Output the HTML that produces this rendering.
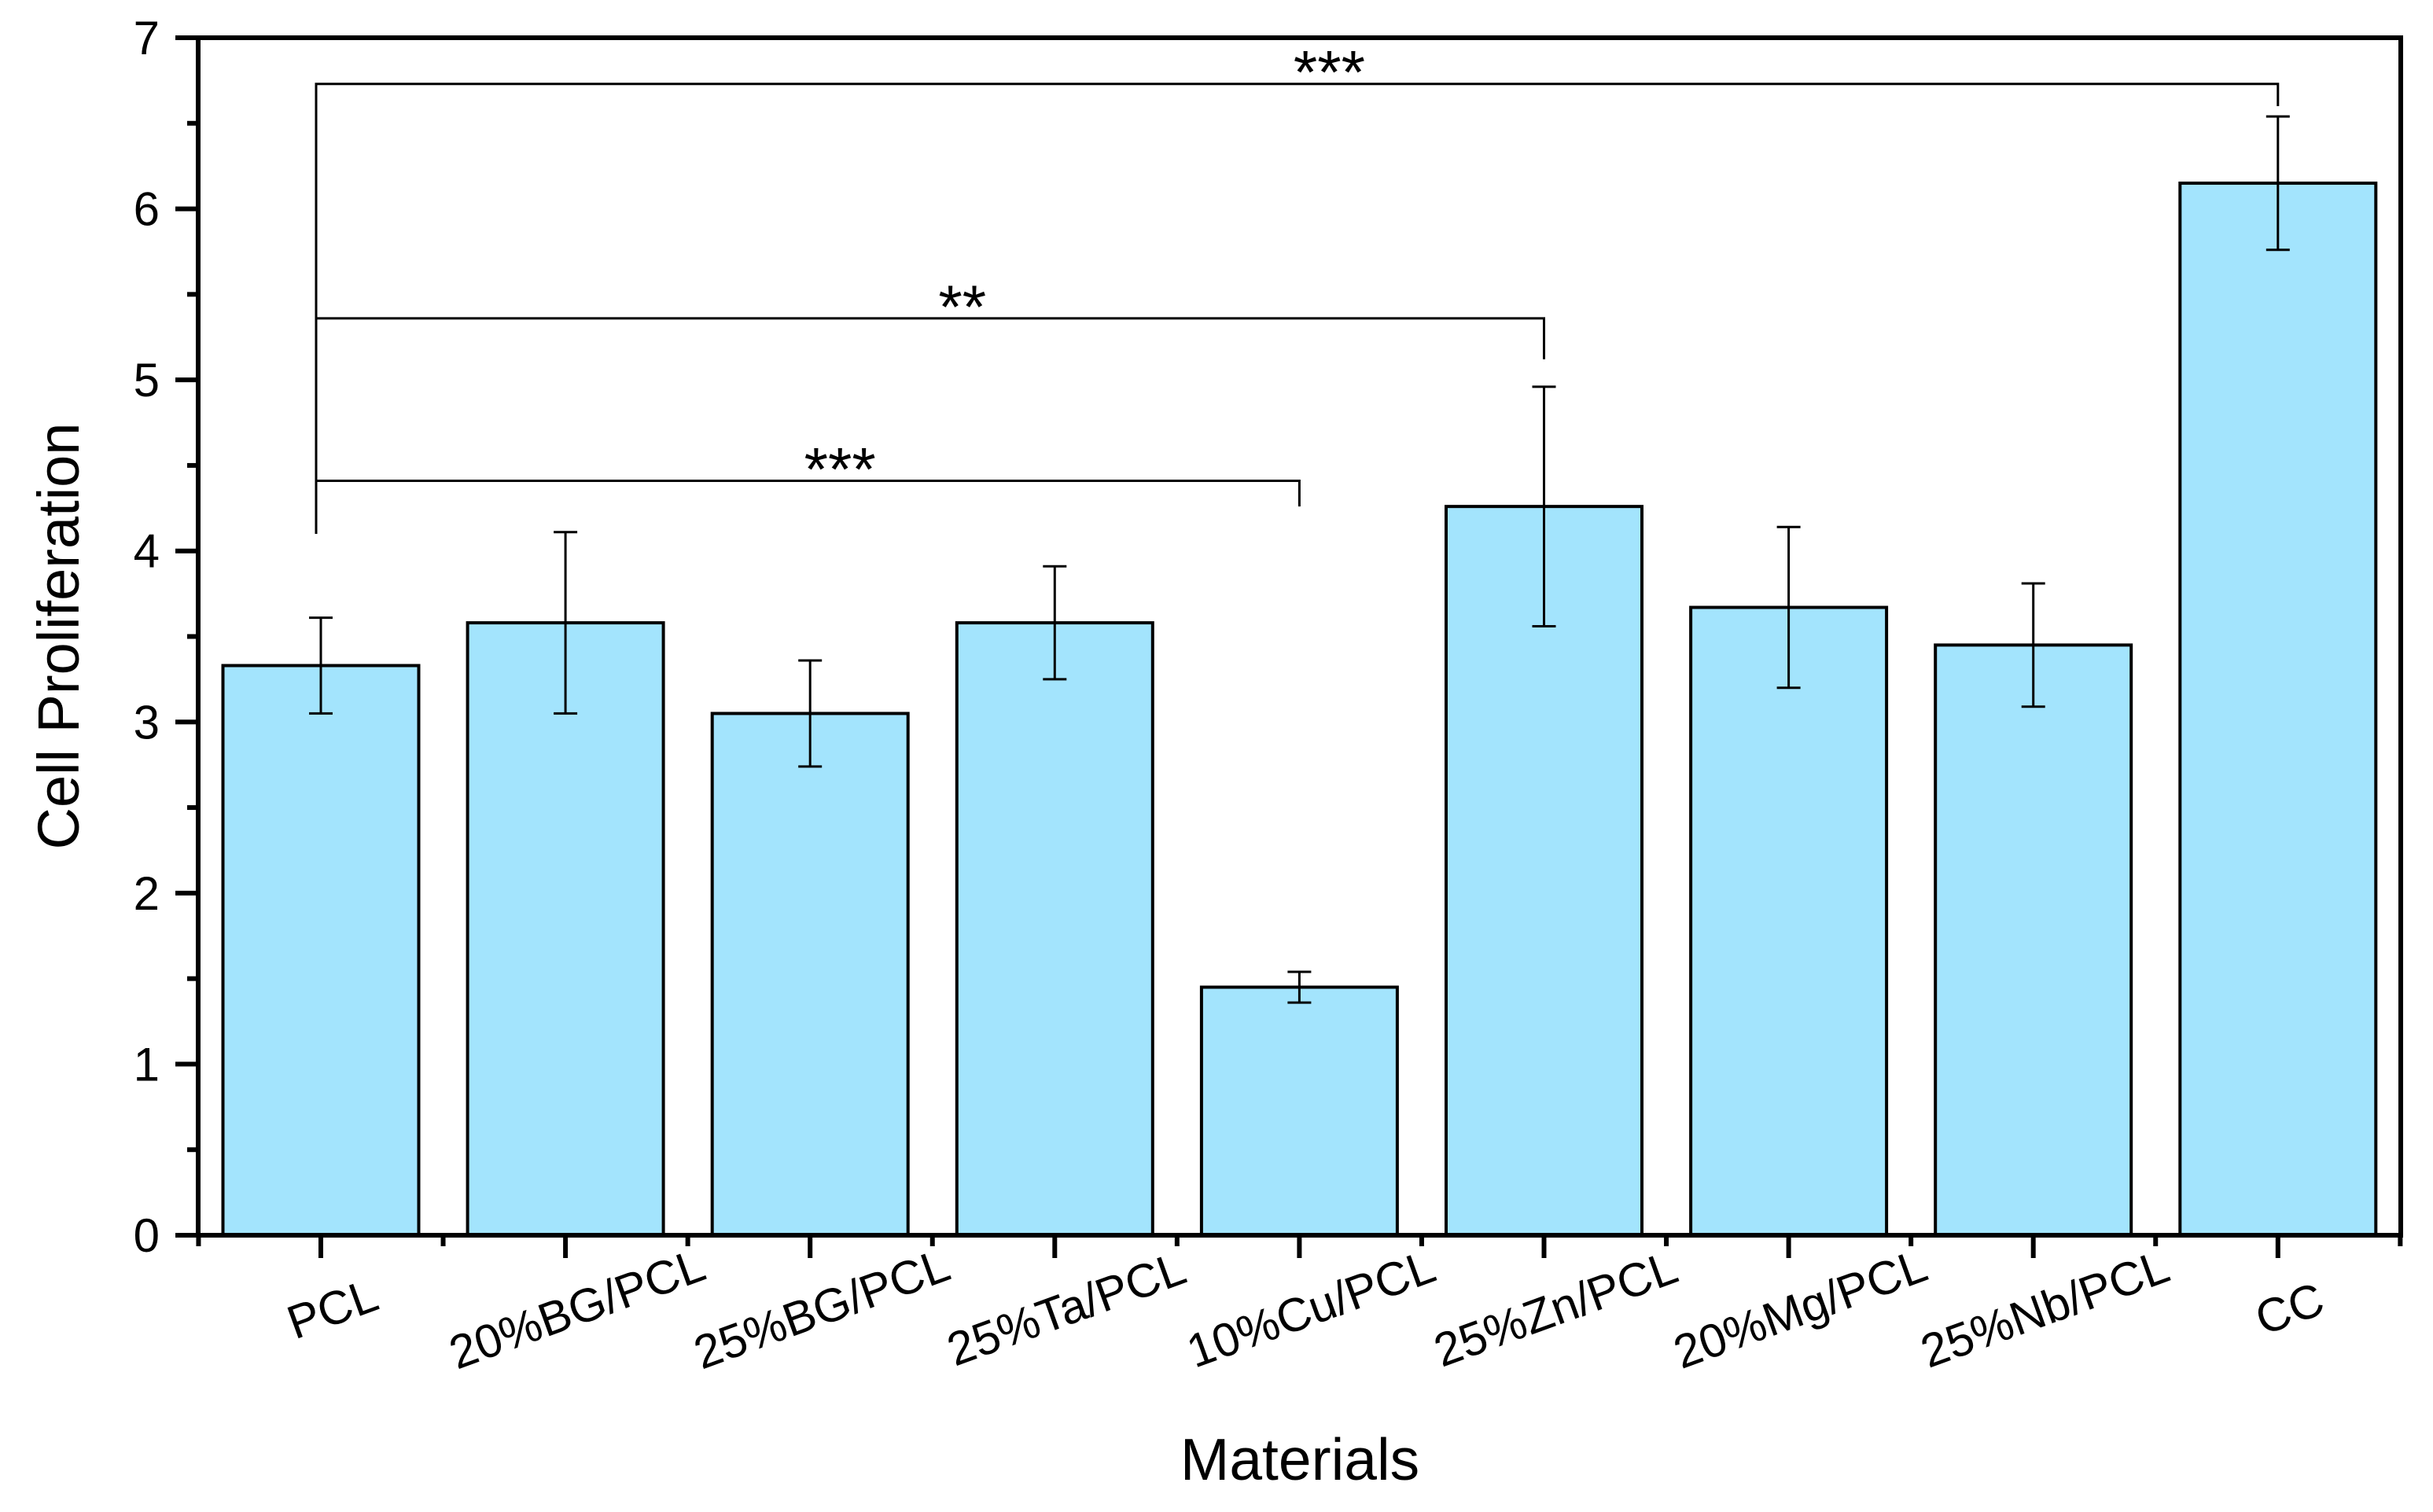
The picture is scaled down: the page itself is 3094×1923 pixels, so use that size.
<!DOCTYPE html>
<html><head><meta charset="utf-8"><style>
html,body{margin:0;padding:0;background:#fff;}
svg{display:block;font-family:"Liberation Sans",Arial,sans-serif;}
</style></head><body>
<svg id="chart" width="3094" height="1923" viewBox="0 0 3094 1923" xmlns="http://www.w3.org/2000/svg">
<g id="plot"></g>
</svg>
<script>
const categories = ["PCL","20%BG/PCL","25%BG/PCL","25%Ta/PCL","10%Cu/PCL","25%Zn/PCL","20%Mg/PCL","25%Nb/PCL","CC"];
const values = [3.33,3.58,3.05,3.58,1.45,4.26,3.67,3.45,6.15];
const errors = [0.28,0.53,0.31,0.33,0.09,0.70,0.47,0.36,0.39];
const yTicks = [0,1,2,3,4,5,6,7];
const brackets = [
  {from:0,to:8,level:6.73,leftDrop:4.1,rightDrop:6.6,label:"***"},
  {from:0,to:5,level:5.36,leftDrop:4.1,rightDrop:5.12,label:"**"},
  {from:0,to:4,level:4.41,leftDrop:4.1,rightDrop:4.26,label:"***"}
];

const NS="http://www.w3.org/2000/svg";
const g=document.getElementById('plot');
const L=252,R=3053,T=48,B=1571;
const y0=B, unit=(B-T)/7;
const x0=408, step=311.1, barW=249;
function X(i){return x0+i*step;}
function Y(v){return y0-v*unit;}
function el(tag,attrs,parent){const e=document.createElementNS(NS,tag);for(const k in attrs)e.setAttribute(k,attrs[k]);(parent||g).appendChild(e);return e;}

categories.forEach((c,i)=>{
  const r=el('rect',{x:X(i)-barW/2,y:Y(values[i]),width:barW,height:Y(0)-Y(values[i]),fill:'#a3e4fd',stroke:'#000','stroke-width':4});
  
  
});
categories.forEach((c,i)=>{
  const eg=el('g',{stroke:'#000','stroke-width':3});
  
  
  const hi=Y(values[i]+errors[i]),lo=Y(values[i]-errors[i]);
  el('line',{x1:X(i),x2:X(i),y1:hi,y2:lo},eg);
  el('line',{x1:X(i)-15,x2:X(i)+15,y1:hi,y2:hi},eg);
  el('line',{x1:X(i)-15,x2:X(i)+15,y1:lo,y2:lo},eg);
});
const frame=el('rect',{x:L,y:T,width:R-L,height:B-T,fill:'none',stroke:'#000','stroke-width':6});


yTicks.forEach(v=>{
  el('line',{x1:L-29,x2:L,y1:Y(v),y2:Y(v),stroke:'#000','stroke-width':6});
  if(v<7) el('line',{x1:L-14,x2:L,y1:Y(v+0.5),y2:Y(v+0.5),stroke:'#000','stroke-width':6});
  const t=el('text',{x:203,y:Y(v)+21,'text-anchor':'end','font-size':60,fill:'#000'});
  t.textContent=v;
  
  
});
categories.forEach((c,i)=>{
  el('line',{x1:X(i),x2:X(i),y1:B,y2:B+29,stroke:'#000','stroke-width':6});
  el('line',{x1:X(i)-step/2,x2:X(i)-step/2,y1:B,y2:B+14,stroke:'#000','stroke-width':6});
  const t=el('text',{x:X(i)+15,y:1685,'text-anchor':'middle','font-size':60,fill:'#000',transform:'rotate(-20 '+(X(i)+15)+' 1665)'});
  t.textContent=c;
  
  
});
el('line',{x1:X(8)+step/2,x2:X(8)+step/2,y1:B,y2:B+14,stroke:'#000','stroke-width':6});
brackets.forEach(b=>{
  const bg=el('g',{stroke:'#000','stroke-width':3,fill:'none'});
  
  
  el('polyline',{points:`${X(b.from)-6},${Y(b.leftDrop)} ${X(b.from)-6},${Y(b.level)} ${X(b.to)},${Y(b.level)} ${X(b.to)},${Y(b.rightDrop)}`},bg);
  const mid=(X(b.from)+X(b.to))/2+38;
  const t=el('text',{x:mid,y:Y(b.level)+12,'text-anchor':'middle','font-size':78,fill:'#000'});
  t.textContent=b.label;
  
  
});
const yt=el('text',{x:0,y:0,'text-anchor':'middle','font-size':74,fill:'#000',transform:'translate(100 809) rotate(-90)'});
yt.textContent='Cell Proliferation';


const xt=el('text',{x:1653,y:1882,'text-anchor':'middle','font-size':75,fill:'#000'});
xt.textContent='Materials';


</script>
</body></html>
